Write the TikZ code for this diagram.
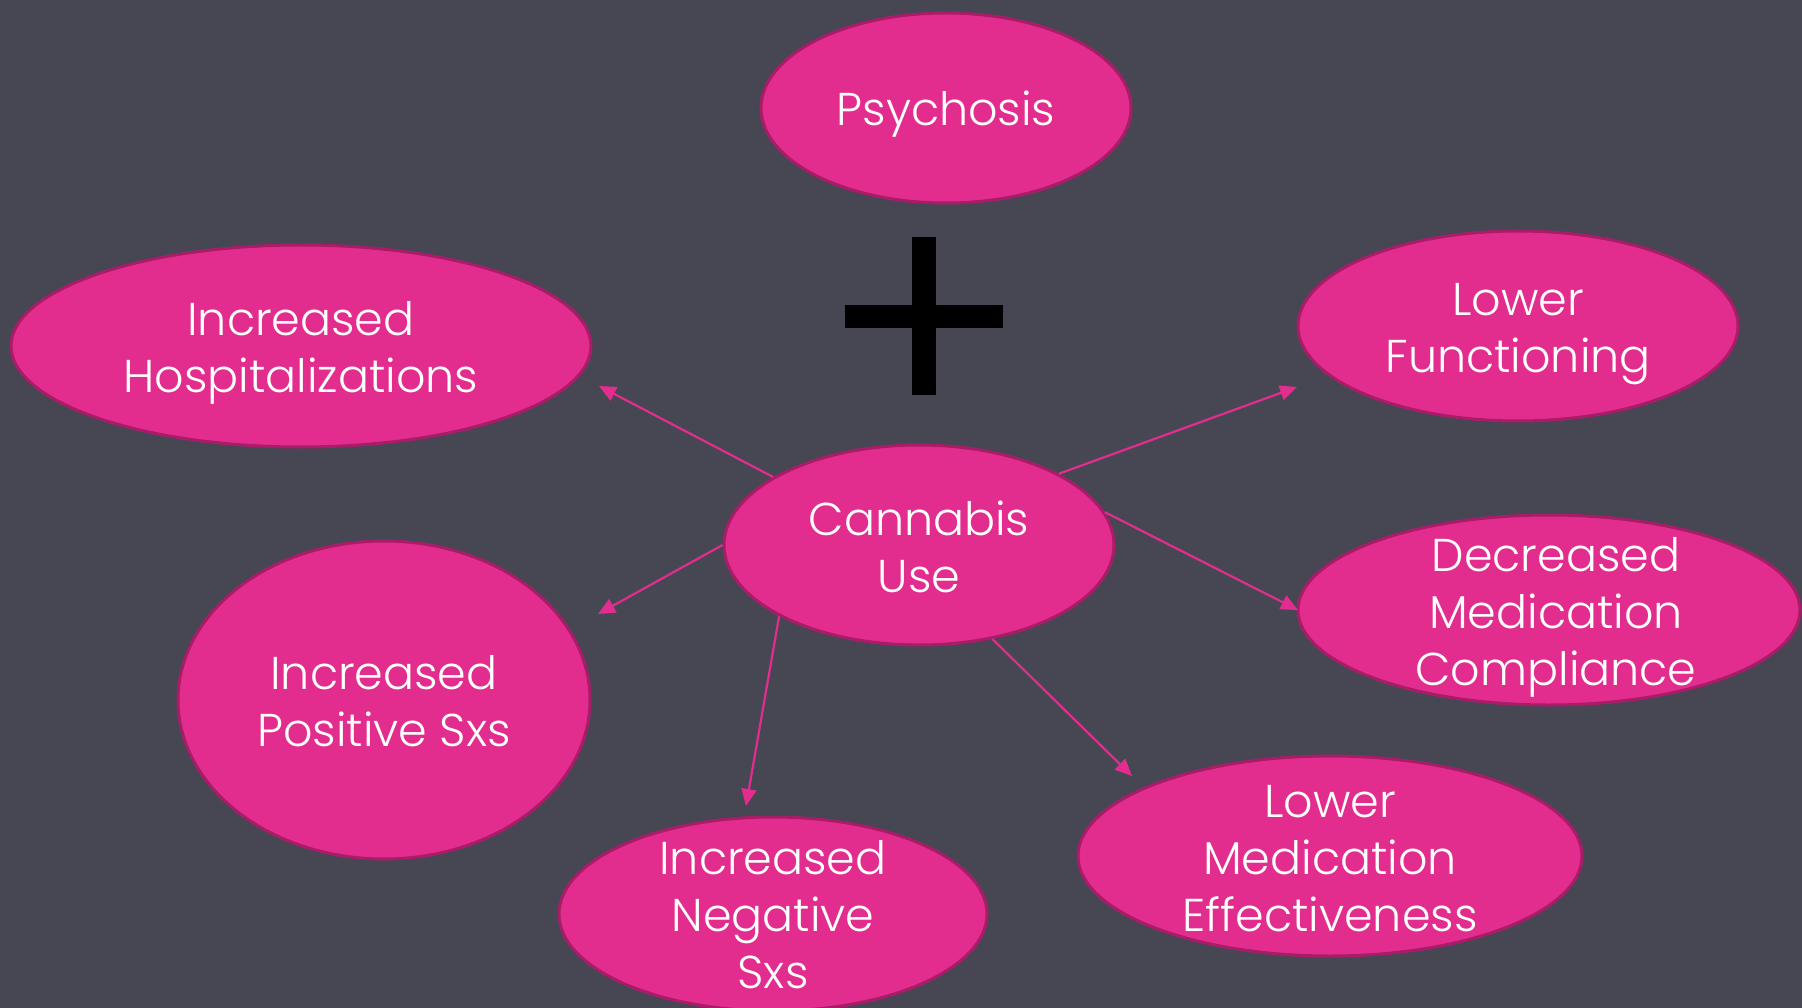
\documentclass[tikz,border=0pt]{standalone}
\usepackage{fontspec}
\setmainfont{Poppins Light}
\usetikzlibrary{shapes.geometric,arrows.meta}
\definecolor{bg}{HTML}{464752}
\definecolor{pinkfill}{HTML}{E22D8F}
\definecolor{pinkedge}{HTML}{A81C68}
\tikzset{
  bubble/.style={ellipse, fill=pinkfill, draw=pinkedge, line width=3pt, inner sep=0pt},
  txt/.style={text=white, font=\fontsize{46}{57}\selectfont, align=center, inner sep=0pt},
  conn/.style={draw=pinkfill, line width=2.2pt, -{Triangle[length=17pt,width=15pt]}}
}
\begin{document}
\begin{tikzpicture}[x=1pt,y=-1pt]
\useasboundingbox (0,0) rectangle (1802,1008);
\fill[bg] (0,0) rectangle (1802,1008);
\clip (0,0) rectangle (1802,1008);
% nodes
\node[bubble, minimum width=370pt, minimum height=190pt] (psy) at (946,108) {};
\node[txt, yshift=-6pt] (psyT) at (psy.center) {Psychosis};
\node[bubble, minimum width=580pt, minimum height=202pt] (hosp) at (301,346) {};
\node[txt, yshift=-7pt] (hospT) at (hosp.center) {Increased\\Hospitalizations};
\node[bubble, minimum width=440pt, minimum height=190pt] (func) at (1518,326) {};
\node[txt, yshift=-8pt] (funcT) at (func.center) {Lower\\Functioning};
\node[bubble, minimum width=390pt, minimum height=200pt] (can) at (919,545) {};
\node[txt, yshift=-2pt] (canT) at (can.center) {Cannabis\\Use};
\node[bubble, minimum width=502pt, minimum height=190pt] (comp) at (1549,610) {};
\node[txt, yshift=-5pt] (compT) at (1556,612) {Decreased\\Medication\\Compliance};
\node[bubble, minimum width=412pt, minimum height=318pt] (pos) at (384,700) {};
\node[txt, yshift=-1pt] (posT) at (pos.center) {Increased\\Positive Sxs};
\node[bubble, minimum width=428pt, minimum height=194pt] (neg) at (773,914) {};
\node[txt, yshift=-1pt] (negT) at (neg.center) {Increased\\Negative\\Sxs};
\node[bubble, minimum width=504pt, minimum height=200pt] (eff) at (1330,856) {};
\node[txt, yshift=-3pt] (effT) at (eff.center) {Lower\\Medication\\Effectiveness};
% plus sign
\fill[black] (912,237) rectangle (936,395);
\fill[black] (845,305) rectangle (1003,328);
% arrow tips
\coordinate (tHosp) at (599,386);
\coordinate (tPos) at (598,614);
\coordinate (tNeg) at (746,806);
\coordinate (tEff) at (1132,776);
\coordinate (tComp) at (1298,610);
\coordinate (tFunc) at (1297,387);
\draw[conn] (can.155.5) -- (tHosp);
\draw[conn] (can.180) -- (tPos);
\draw[conn] (can.207) -- (tNeg);
\draw[conn] (can.308) -- (tEff);
\draw[conn] (can.10) -- (tComp);
\draw[conn] (can.27.6) -- (tFunc);
\end{tikzpicture}
\end{document}
